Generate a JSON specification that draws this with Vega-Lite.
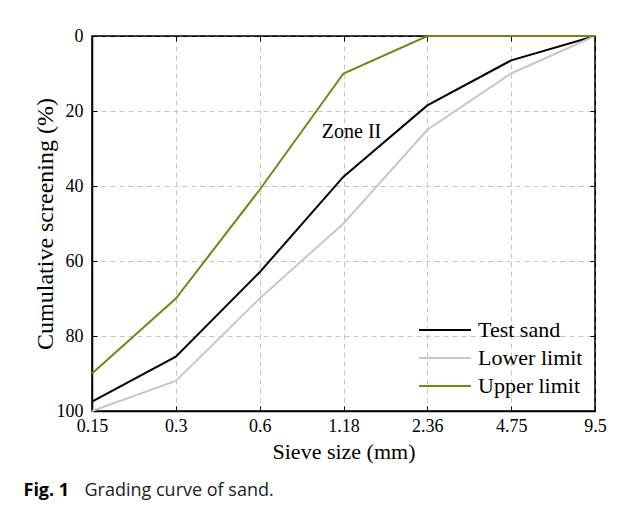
{
  "$schema": "https://vega.github.io/schema/vega-lite/v6.json",
  "width": 503,
  "height": 375,
  "autosize": {"type": "none"},
  "padding": {"left": 92, "top": 36, "right": 31, "bottom": 95},
  "background": "white",
  "config": {
    "font": "Liberation Serif",
    "view": {"stroke": "black", "strokeWidth": 1.5},
    "axis": {"labelColor": "black", "titleColor": "black", "tickColor": "black", "domainColor": "black", "labelFont": "Liberation Serif", "titleFont": "Liberation Serif", "titleFontWeight": "normal"}
  },
  "datasets": {
    "curves": [
      {"size": "0.15", "pct": 97.5, "series": "Test sand"},
      {"size": "0.3", "pct": 85.5, "series": "Test sand"},
      {"size": "0.6", "pct": 63, "series": "Test sand"},
      {"size": "1.18", "pct": 37.5, "series": "Test sand"},
      {"size": "2.36", "pct": 18.5, "series": "Test sand"},
      {"size": "4.75", "pct": 6.5, "series": "Test sand"},
      {"size": "9.5", "pct": 0, "series": "Test sand"},
      {"size": "0.15", "pct": 100, "series": "Lower limit"},
      {"size": "0.3", "pct": 92, "series": "Lower limit"},
      {"size": "0.6", "pct": 70, "series": "Lower limit"},
      {"size": "1.18", "pct": 50, "series": "Lower limit"},
      {"size": "2.36", "pct": 25, "series": "Lower limit"},
      {"size": "4.75", "pct": 10, "series": "Lower limit"},
      {"size": "9.5", "pct": 0, "series": "Lower limit"},
      {"size": "0.15", "pct": 90, "series": "Upper limit"},
      {"size": "0.3", "pct": 70, "series": "Upper limit"},
      {"size": "0.6", "pct": 41, "series": "Upper limit"},
      {"size": "1.18", "pct": 10, "series": "Upper limit"},
      {"size": "2.36", "pct": 0, "series": "Upper limit"},
      {"size": "4.75", "pct": 0, "series": "Upper limit"},
      {"size": "9.5", "pct": 0, "series": "Upper limit"}
    ],
    "notes": [
      {"size": "1.18", "pct": 27.2, "label": "Zone II"}
    ]
  },
  "layer": [
    {
      "data": {"name": "curves"},
      "mark": {"type": "line", "strokeWidth": 2},
      "encoding": {
        "x": {
          "field": "size", "type": "ordinal",
          "sort": ["0.15", "0.3", "0.6", "1.18", "2.36", "4.75", "9.5"],
          "scale": {"type": "point", "padding": 0},
          "axis": {"orient": "bottom", "title": "Sieve size (mm)", "labelAngle": 0, "labelFontSize": 18, "titleFontSize": 22, "tickSize": -5, "labelPadding": 11, "titlePadding": 6, "grid": true, "gridDash": [5, 4],
            "gridColor": {"condition": {"test": "datum.value === '0.15' || datum.value === '9.5'", "value": "black"}, "value": "#c4c4c4"}, "domainWidth": 1.5}
        },
        "y": {
          "field": "pct", "type": "quantitative",
          "scale": {"domain": [0, 100], "reverse": true, "nice": false},
          "axis": {"orient": "left", "title": "Cumulative screening (%)", "values": [0, 20, 40, 60, 80, 100], "labelFontSize": 18, "titleFontSize": 24, "tickSize": -5, "labelPadding": 14, "titlePadding": -1, "grid": true, "gridDash": [5, 4],
            "gridColor": {"condition": {"test": "datum.value === 0 || datum.value === 100", "value": "black"}, "value": "#c4c4c4"}, "domainWidth": 1.5}
        },
        "color": {
          "field": "series", "type": "nominal",
          "scale": {"domain": ["Test sand", "Lower limit", "Upper limit"], "range": ["#000000", "#c8c8c8", "#808018"]},
          "legend": {"orient": "none", "legendX": 339, "legendY": 280, "title": null, "symbolType": "M-2,0L2,0", "symbolSize": 676, "symbolStrokeWidth": 2, "symbolFillColor": "transparent", "labelFontSize": 22, "labelFont": "Liberation Serif", "labelColor": "black", "labelOffset": 19, "rowPadding": 3, "padding": 0}
        }
      }
    },
    {
      "data": {"name": "notes"},
      "mark": {"type": "text", "fontSize": 20, "align": "center", "baseline": "alphabetic", "dx": 8, "color": "black"},
      "encoding": {
        "x": {"field": "size", "type": "ordinal", "sort": ["0.15", "0.3", "0.6", "1.18", "2.36", "4.75", "9.5"],
          "axis": {"orient": "top", "labels": false, "domain": false, "grid": false, "tickSize": -5,
            "title": "Grading curve of sand.", "titleFont": "Open Sans", "titleFontSize": 18, "titleFontWeight": "normal", "titleColor": "#222222",
            "titleX": -8, "titleY": 459, "titleAlign": "left", "titleAnchor": "start", "titleBaseline": "alphabetic", "titleAngle": 0}},
        "y": {"field": "pct", "type": "quantitative",
          "axis": {"orient": "right", "labels": false, "domain": false, "grid": false, "tickSize": -5, "values": [0, 20, 40, 60, 80, 100],
            "title": "Fig. 1", "titleFont": "Open Sans", "titleFontSize": 18, "titleFontWeight": "bold", "titleColor": "black",
            "titleX": -572, "titleY": 459, "titleAlign": "left", "titleAnchor": "start", "titleBaseline": "alphabetic", "titleAngle": 0}},
        "text": {"field": "label"}
      }
    }
  ],
  "resolve": {"axis": {"x": "independent", "y": "independent"}}
}
